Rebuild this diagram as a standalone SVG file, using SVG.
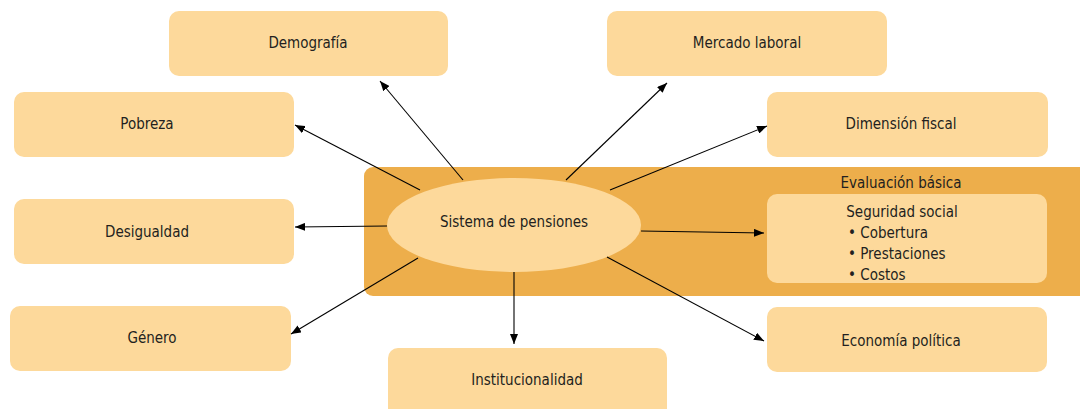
<svg xmlns="http://www.w3.org/2000/svg" width="1080" height="409" viewBox="0 0 1080 409">
<defs>
<marker id="ah" viewBox="0 0 10 8" refX="10" refY="4" markerWidth="10" markerHeight="8" markerUnits="userSpaceOnUse" orient="auto">
<path d="M0,0 L10,4 L0,8 Z" fill="#000"/>
</marker>
<style>
.box{fill:#FDD99B}
.t{font-family:"Liberation Sans Narrow","DejaVu Sans Condensed","Roboto Condensed",sans-serif;font-size:15px;fill:#231F20;text-anchor:middle;dominant-baseline:central}
.tl{text-anchor:start}
.c{stroke:#000;stroke-width:1.1;fill:none;marker-end:url(#ah)}
</style>
</defs>
<rect width="1080" height="409" fill="#fff"/>
<g id="band">
<rect x="364" y="167" width="730" height="129" rx="9" fill="#EDAE4B"/>
<text class="t" x="901" y="183">Evaluación básica</text>
</g>
<g id="demografia"><rect class="box" x="169" y="11" width="279" height="65" rx="10"/><text class="t" x="308" y="43">Demografía</text></g>
<g id="mercado"><rect class="box" x="607" y="11" width="280" height="65" rx="10"/><text class="t" x="747" y="43">Mercado laboral</text></g>
<g id="pobreza"><rect class="box" x="14" y="92" width="280" height="65" rx="10"/><text class="t" x="147" y="124">Pobreza</text></g>
<g id="fiscal"><rect class="box" x="767" y="92" width="281" height="65" rx="10"/><text class="t" x="901" y="124">Dimensión fiscal</text></g>
<g id="desigualdad"><rect class="box" x="14" y="199" width="280" height="65" rx="10"/><text class="t" x="147" y="232">Desigualdad</text></g>
<g id="genero"><rect class="box" x="10" y="306" width="281" height="65" rx="10"/><text class="t" x="152" y="338">Género</text></g>
<g id="institucionalidad"><rect class="box" x="388" y="348" width="279" height="70" rx="10"/><text class="t" x="527" y="380">Institucionalidad</text></g>
<g id="economia"><rect class="box" x="767" y="307" width="280" height="65" rx="10"/><text class="t" x="901" y="341">Economía política</text></g>
<g id="seguridad">
<rect class="box" x="767" y="194" width="280" height="89" rx="10"/>
<text class="t" x="902" y="212">Seguridad social</text>
<text class="t tl" x="848" y="233">• Cobertura</text>
<text class="t tl" x="848" y="254">• Prestaciones</text>
<text class="t tl" x="848" y="275">• Costos</text>
</g>
<g id="sistema"><ellipse class="box" cx="514" cy="225" rx="127" ry="47"/><text class="t" x="514" y="222">Sistema de pensiones</text></g>
<g id="connectors">
<line class="c" x1="463" y1="180" x2="380" y2="81"/>
<line class="c" x1="420" y1="190" x2="295" y2="125"/>
<line class="c" x1="566" y1="180" x2="667" y2="83"/>
<line class="c" x1="610" y1="190" x2="767" y2="126"/>
<line class="c" x1="387" y1="226" x2="295" y2="227"/>
<line class="c" x1="418" y1="258" x2="291" y2="334"/>
<line class="c" x1="514" y1="272" x2="514" y2="344"/>
<line class="c" x1="641" y1="231" x2="764" y2="233"/>
<line class="c" x1="607" y1="257" x2="764" y2="341"/>
</g>
</svg>
